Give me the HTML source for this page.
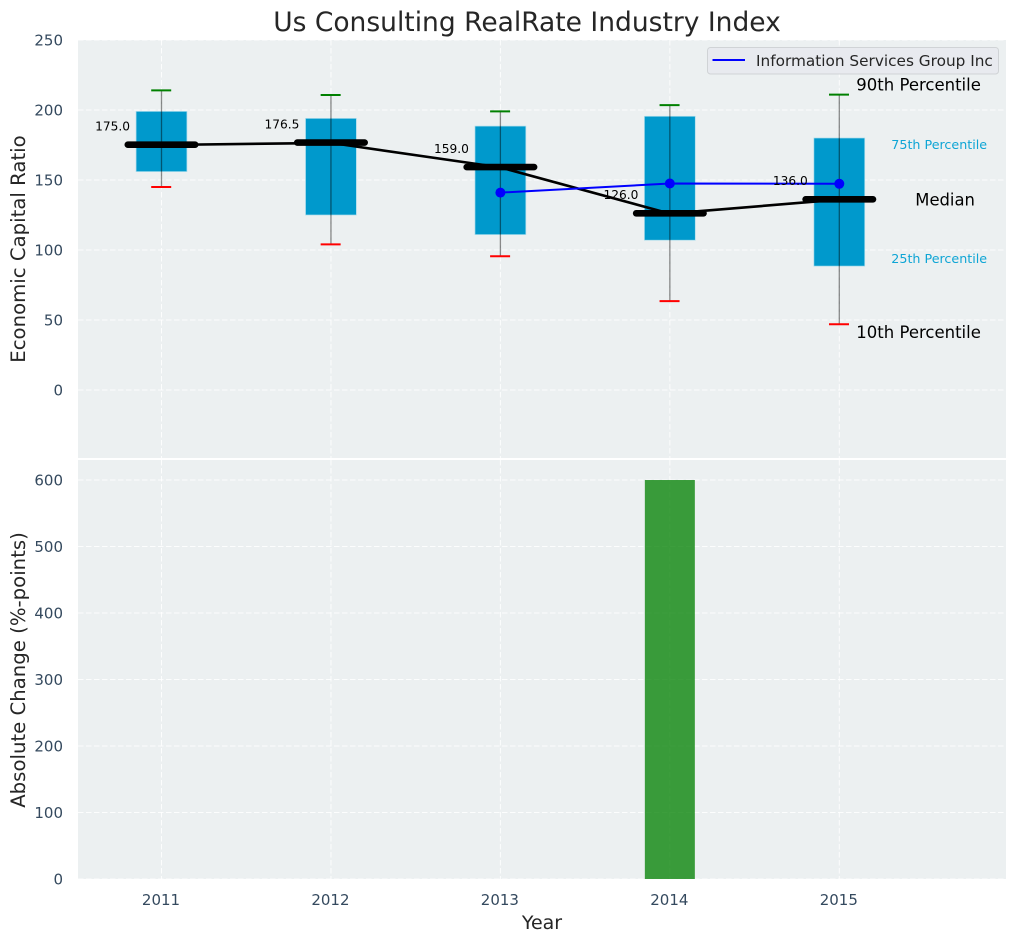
<!DOCTYPE html>
<html>
<head>
<meta charset="utf-8">
<title>Us Consulting RealRate Industry Index</title>
<style>
html,body{margin:0;padding:0;background:#fff;width:1016px;height:942px;overflow:hidden}
svg{display:block;font-family:"DejaVu Sans","Liberation Sans",sans-serif}
</style>
</head>
<body>
<svg id="chart" xmlns="http://www.w3.org/2000/svg" width="1016" height="942" viewBox="0 0 1016 942"></svg>
<script>
const years = [2011, 2012, 2013, 2014, 2015];
const p90 = [214, 210.7, 199, 203.5, 211];
const p75 = [199, 194, 188.5, 195.5, 180];
const medians = [175, 176.5, 159, 126, 136];
const p25 = [156, 125, 111, 107, 88.5];
const p10 = [145, 104, 95.5, 63.5, 47];
const companyYears = [2013, 2014, 2015];
const companyValues = [141, 147.5, 147.3];
const changeYears = [2014];
const changeValues = [600];
const topTicks = [0, 50, 100, 150, 200, 250];
const bottomTicks = [0, 100, 200, 300, 400, 500, 600];

const svg = document.getElementById('chart');
const NS = 'http://www.w3.org/2000/svg';
const L = 78, R = 1006, T1 = 40, B1 = 458, T2 = 460, B2 = 879;
const x = v => 161.5 + (v - 2011) * 169.45;
const y1 = v => 390 - v * 1.4;
const y2 = v => 879 - v * 0.665;

function add(tag, attrs, parent, txt) {
  const e = document.createElementNS(NS, tag);
  for (const k in attrs) e.setAttribute(k, attrs[k]);
  if (txt !== undefined) e.textContent = txt;
  (parent || svg).appendChild(e);
  return e;
}
const INK = '#34495e';
const DARK = '#262626';

let el = add('rect', {x: L, y: T1, width: R - L, height: B1 - T1, fill: '#ecf0f1'});


el = add('rect', {x: L, y: T2, width: R - L, height: B2 - T2, fill: '#ecf0f1'});



const gridStyle = {stroke: '#fff', 'stroke-width': 1, 'stroke-opacity': 0.85, 'stroke-dasharray': '5.5 2.5'};
topTicks.forEach(t => {
  const yy = y1(t);
  let g = add('line', Object.assign({x1: L, x2: R, y1: yy, y2: yy}, gridStyle));
  
  
  let l = add('text', {x: 63, y: yy + 5.5, 'text-anchor': 'end', 'font-size': 15, fill: INK}, svg, String(t));
  
  
});
bottomTicks.forEach(t => {
  const yy = y2(t);
  let g = add('line', Object.assign({x1: L, x2: R, y1: yy, y2: yy}, gridStyle));
  
  
  let l = add('text', {x: 63, y: yy + 5.5, 'text-anchor': 'end', 'font-size': 15, fill: INK}, svg, String(t));
  
  
});
years.forEach(yr => {
  const xx = x(yr);
  let g = add('line', Object.assign({x1: xx, x2: xx, y1: T1, y2: B1}, gridStyle));
  
  
  g = add('line', Object.assign({x1: xx, x2: xx, y1: T2, y2: B2}, gridStyle));
  
  
  let l = add('text', {x: xx - 0.5, y: 905, 'text-anchor': 'middle', 'font-size': 15, fill: INK}, svg, String(yr));
  
  
});

/* boxes */
const boxW = 0.3 * 169.45;
years.forEach((yr, i) => {
  const xx = x(yr);
  let b = add('rect', {x: xx - boxW / 2, y: y1(p75[i]), width: boxW, height: y1(p25[i]) - y1(p75[i]), fill: '#0099cc', stroke: '#a8dcec', 'stroke-width': 0.7});
  
  
});

/* median connecting line */
el = add('polyline', {points: years.map((yr, i) => x(yr) + ',' + y1(medians[i])).join(' '), fill: 'none', stroke: '#000', 'stroke-width': 2.6, 'stroke-linejoin': 'round'});



/* whiskers and caps */
years.forEach((yr, i) => {
  const xx = x(yr);
  let w = add('line', {x1: xx, x2: xx, y1: y1(p90[i]), y2: y1(p10[i]), stroke: '#000', 'stroke-opacity': 0.45, 'stroke-width': 1.3});
  
  
  let c = add('line', {x1: xx - 10.3, x2: xx + 9.7, y1: y1(p90[i]), y2: y1(p90[i]), stroke: '#008000', 'stroke-width': 2});
  
  
  c = add('line', {x1: xx - 10.3, x2: xx + 9.7, y1: y1(p10[i]), y2: y1(p10[i]), stroke: '#ff0000', 'stroke-width': 2});
  
  
});

/* company series */
el = add('polyline', {points: companyYears.map((yr, i) => x(yr) + ',' + y1(companyValues[i])).join(' '), fill: 'none', stroke: '#0000ff', 'stroke-width': 2});


companyYears.forEach((yr, i) => {
  let d = add('circle', {cx: x(yr), cy: y1(companyValues[i]), r: 5, fill: '#0000ff'});
  
  
});

/* median bars and value labels */
years.forEach((yr, i) => {
  const xx = x(yr), yy = y1(medians[i]);
  let m = add('line', {x1: xx - 33.7, x2: xx + 33.7, y1: yy - 0.3, y2: yy - 0.3, stroke: '#000', 'stroke-width': 6.6, 'stroke-linecap': 'round'});
  
  
  let l = add('text', {x: xx - 31.5, y: yy - 14.5, 'text-anchor': 'end', 'font-size': 12.2, fill: '#000'}, svg, medians[i].toFixed(1));
  
  
});

/* percentile annotations for the last year */
const last = years.length - 1;
const lx = x(years[last]);
el = add('text', {x: lx + 17, y: y1(p90[last]) - 4, 'font-size': 16.5, fill: '#000'}, svg, '90th Percentile');


el = add('text', {x: lx + 17, y: y1(p10[last]) + 14, 'font-size': 16.5, fill: '#000'}, svg, '10th Percentile');


el = add('text', {x: lx + 52, y: y1(p75[last]) + 11, 'font-size': 12.7, fill: '#0ea5d5'}, svg, '75th Percentile');


el = add('text', {x: lx + 52, y: y1(p25[last]) - 3, 'font-size': 12.7, fill: '#0ea5d5'}, svg, '25th Percentile');


el = add('text', {x: lx + 76, y: y1(medians[last]) + 6, 'font-size': 16.4, fill: '#000'}, svg, 'Median');



/* legend */
el = add('rect', {x: 707.5, y: 47.5, width: 291, height: 26.5, rx: 3, fill: '#e8eaef', stroke: '#d0d3d6', 'stroke-width': 1});


el = add('line', {x1: 712.5, x2: 745, y1: 60, y2: 60, stroke: '#0000ff', 'stroke-width': 2});


el = add('text', {x: 756, y: 66, 'font-size': 15.3, fill: DARK}, svg, 'Information Services Group Inc');



/* bottom bars */
changeYears.forEach((yr, i) => {
  const xx = x(yr);
  let b = add('rect', {x: xx - 25, y: y2(changeValues[i]), width: 50, height: y2(0) - y2(changeValues[i]), fill: '#008000', 'fill-opacity': 0.76});
  
  
});

/* titles */
el = add('text', {x: 527, y: 31, 'text-anchor': 'middle', 'font-size': 26.5, fill: DARK}, svg, 'Us Consulting RealRate Industry Index');


el = add('text', {x: 0, y: 0, 'text-anchor': 'middle', 'font-size': 19.7, fill: DARK, transform: 'translate(25,249) rotate(-90)'}, svg, 'Economic Capital Ratio');


el = add('text', {x: 0, y: 0, 'text-anchor': 'middle', 'font-size': 19.7, fill: DARK, transform: 'translate(25,670) rotate(-90)'}, svg, 'Absolute Change (%-points)');


el = add('text', {x: 542, y: 929, 'text-anchor': 'middle', 'font-size': 19, fill: DARK}, svg, 'Year');


</script>
</body>
</html>
